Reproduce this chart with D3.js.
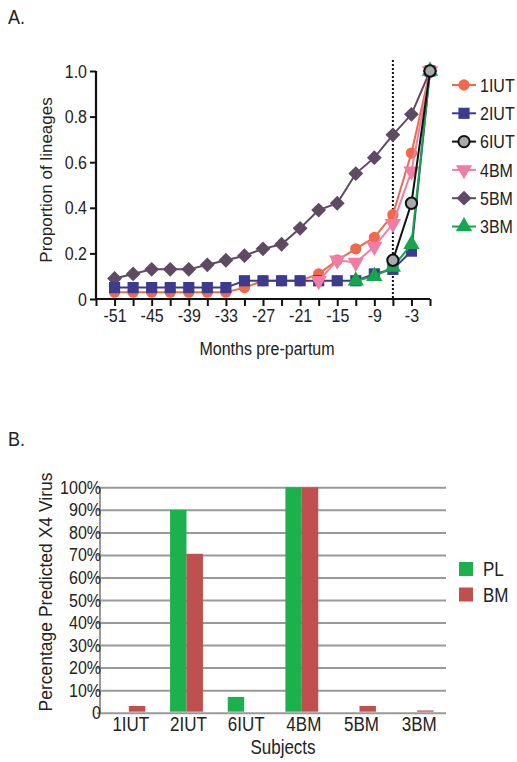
<!DOCTYPE html>
<html>
<head>
<meta charset="utf-8">
<script src="https://cdn.jsdelivr.net/npm/d3@7"></script>
<style>
  body { margin: 0; background: #fff; }
  svg { display: block; font-family: "Liberation Sans", Arial, sans-serif; fill: #222; }
  /* the reference is a little stretched vertically */
  text.st { transform-box: fill-box; transform-origin: center; transform: scaleY(1.17); }
</style>
</head>
<body>
<svg id="chart" width="517" height="762"></svg>
<script>
// panel A data: proportion of lineages by months pre-partum
const months = [-51, -48, -45, -42, -39, -36, -33, -30, -27, -24, -21, -18, -15, -12, -9, -6, -3, 0];
const xTicks = [-54, -51, -48, -45, -42, -39, -36, -33, -30, -27, -24, -21, -18, -15, -12, -9, -6, -3, 0];
const xLabels = [-51, -45, -39, -33, -27, -21, -15, -9, -3];
const yTicks = [0, 0.2, 0.4, 0.6, 0.8, 1.0];
const s1IUT = [0.03, 0.03, 0.03, 0.03, 0.03, 0.03, 0.03, 0.05, 0.08, 0.08, 0.08, 0.11, 0.17, 0.22, 0.27, 0.37, 0.64, 1.0];
const s2IUT = [0.05, 0.05, 0.05, 0.05, 0.05, 0.05, 0.05, 0.08, 0.08, 0.08, 0.08, 0.08, 0.08, 0.08, 0.11, 0.13, 0.21, 1.0];
const s6IUT = [null, null, null, null, null, null, null, null, null, null, null, null, null, null, null, 0.17, 0.42, 1.0];
const s4BM = [null, null, null, null, null, null, null, null, null, null, null, 0.08, 0.17, 0.16, 0.23, 0.33, 0.56, 1.0];
const s5BM = [0.09, 0.11, 0.13, 0.13, 0.13, 0.15, 0.17, 0.19, 0.22, 0.24, 0.31, 0.39, 0.42, 0.55, 0.62, 0.72, 0.81, 1.0];
const s3BM = [null, null, null, null, null, null, null, null, null, null, null, null, null, 0.08, 0.10, 0.14, 0.24, 1.0];
const deliveryMonth = -6;

// panel B data: percentage predicted X4 virus
const subjects = ["1IUT", "2IUT", "6IUT", "4BM", "5BM", "3BM"];
const groups = ["PL", "BM"];
const plValues = [0, 90, 7, 100, 0, 0];
const bmValues = [3, 70.5, 0, 100, 3, 1];
const pctTicks = [0, 10, 20, 30, 40, 50, 60, 70, 80, 90, 100];

const svg = d3.select("svg#chart");

// ---------- panel A ----------
const series = [
  { name: "1IUT", values: s1IUT, color: "#f0694a", shape: "circle", fill: "#f0694a" },
  { name: "2IUT", values: s2IUT, color: "#3c3b8e", shape: "square", fill: "#3c3b8e" },
  { name: "6IUT", values: s6IUT, color: "#111", shape: "circle", fill: "#a7a9ac" },
  { name: "4BM", values: s4BM, color: "#f27ca3", shape: "down", fill: "#f27ca3" },
  { name: "5BM", values: s5BM, color: "#5e4a62", shape: "diamond", fill: "#5e4a62" },
  { name: "3BM", values: s3BM, color: "#14a64a", shape: "up", fill: "#14a64a" },
];
const drawOrder = ["5BM", "1IUT", "2IUT", "4BM", "3BM", "6IUT"];

const x = d3.scaleLinear().domain([-54, 0]).range([96, 430]);
const y = d3.scaleLinear().domain([0, 1]).range([299, 71]);

function symbolPath(shape) {
  if (shape === "circle") return d3.symbol(d3.symbolCircle, 100)();
  if (shape === "square") return d3.symbol(d3.symbolSquare, 125)();
  if (shape === "diamond") return d3.symbol(d3.symbolSquare, 110)();
  return d3.symbol(d3.symbolTriangle, 115)();
}
function symbolRotate(shape) {
  if (shape === "diamond") return 45;
  if (shape === "down") return 180;
  return 0;
}

const panelA = svg.append("g");

// dotted line at delivery
panelA.append("line")
  .attr("x1", x(deliveryMonth)).attr("x2", x(deliveryMonth))
  .attr("y1", 60).attr("y2", y(0))
  .attr("stroke", "#111").attr("stroke-width", 2)
  .attr("stroke-dasharray", "2,2");

// axes
const xAxis = panelA.append("g").attr("transform", `translate(0,${y(0)})`)
  .call(d3.axisBottom(x).tickValues(xTicks).tickSize(7)
    .tickFormat((d) => (xLabels.includes(d) ? d : "")));
xAxis.select(".domain").attr("stroke", "#111").attr("stroke-width", 2.2).attr("d", `M${x(-54)},0H${x(0)}`);
xAxis.selectAll(".tick line").attr("stroke", "#111").attr("stroke-width", 2);
xAxis.selectAll(".tick text").attr("class", "st").attr("font-size", 16).attr("fill", "#222")
  .attr("y", 11).attr("dy", "0.71em");

const yAxis = panelA.append("g").attr("transform", `translate(${x(-54)},0)`)
  .call(d3.axisLeft(y).tickValues(yTicks).tickSize(6)
    .tickFormat((d) => (d === 0 ? "0" : d3.format(".1f")(d))));
yAxis.select(".domain").attr("stroke", "#111").attr("stroke-width", 2.2).attr("d", `M0,${y(0)}V${y(1)}`);
yAxis.selectAll(".tick line").attr("stroke", "#111").attr("stroke-width", 2);
yAxis.selectAll(".tick text").attr("class", "st").attr("font-size", 16).attr("fill", "#222").attr("x", -9);

// lines and markers
const line = d3.line()
  .defined((d) => d.v != null)
  .x((d) => x(d.m))
  .y((d) => y(d.v));

drawOrder.forEach((name) => {
  const s = series.find((d) => d.name === name);
  const pts = months.map((m, i) => ({ m, v: s.values[i] }));
  const g = panelA.append("g");
  g.append("path")
    .attr("d", line(pts))
    .attr("fill", "none")
    .attr("stroke", s.color)
    .attr("stroke-width", 2);
  g.selectAll("path.mark")
    .data(pts.filter((d) => d.v != null))
    .join("path")
    .attr("class", "mark")
    .attr("d", symbolPath(s.shape))
    .attr("transform", (d) => `translate(${x(d.m)},${y(d.v)}) rotate(${symbolRotate(s.shape)})`)
    .attr("fill", s.fill)
    .attr("stroke", s.name === "6IUT" ? "#111" : "none")
    .attr("stroke-width", 2);
});

// legend A
const legA = panelA.selectAll("g.leg")
  .data(series)
  .join("g")
  .attr("class", "leg")
  .attr("transform", (d, i) => `translate(464,${85 + i * 28.3})`);
legA.append("line").attr("x1", -12).attr("x2", 12)
  .attr("stroke", (d) => d.color).attr("stroke-width", 2);
legA.append("path")
  .attr("d", (d) => symbolPath(d.shape))
  .attr("transform", (d) => `rotate(${symbolRotate(d.shape)})`)
  .attr("fill", (d) => d.fill)
  .attr("stroke", (d) => (d.name === "6IUT" ? "#111" : "none"))
  .attr("stroke-width", 2);
legA.append("text").attr("class", "st").attr("x", 16).attr("dy", "0.36em")
  .attr("font-size", 16).attr("fill", "#222").text((d) => d.name);

panelA.append("text").attr("class", "st").attr("x", 8).attr("y", 23).attr("font-size", 18).text("A.");
panelA.append("text").attr("transform", "translate(52,180) rotate(-90)")
  .attr("text-anchor", "middle").attr("font-size", 17).text("Proportion of lineages");
panelA.append("text").attr("class", "st").attr("x", 267).attr("y", 354)
  .attr("text-anchor", "middle").attr("font-size", 16).text("Months pre-partum");

// ---------- panel B ----------
const panelB = svg.append("g");
const xB = d3.scaleBand().domain(subjects).range([100, 446]).paddingInner(0.43).paddingOuter(0.215);
const xSub = d3.scaleBand().domain(groups).range([0, xB.bandwidth()]);
const yB = d3.scaleLinear().domain([0, 100]).range([712.7, 487.3]);
const colorB = d3.scaleOrdinal().domain(groups).range(["#1db14e", "#c0504d"]);

// gridlines
const yAxisB = panelB.append("g").attr("transform", "translate(100,0)")
  .call(d3.axisLeft(yB).tickValues(pctTicks).tickSize(-346)
    .tickFormat((d) => (d === 0 ? "0" : d + "%")));
yAxisB.select(".domain").attr("stroke", "#999").attr("stroke-width", 2).attr("d", `M0,${yB(0)}V${yB(100)}`);
yAxisB.selectAll(".tick line").attr("stroke", "#999").attr("stroke-width", 2).attr("x1", -3);
yAxisB.selectAll(".tick text").attr("class", "st").attr("font-size", 16).attr("fill", "#222").attr("x", 1);

const bars = subjects.map((s, i) => [
  { subject: s, group: "PL", value: plValues[i] },
  { subject: s, group: "BM", value: bmValues[i] },
]).flat();

panelB.append("g").selectAll("rect")
  .data(bars.filter((d) => d.value > 0))
  .join("rect")
  .attr("x", (d) => xB(d.subject) + xSub(d.group))
  .attr("width", xSub.bandwidth())
  .attr("y", (d) => yB(d.value))
  .attr("height", (d) => yB(0) - yB(d.value) - 1)
  .attr("fill", (d) => colorB(d.group));

panelB.append("g").selectAll("text")
  .data(subjects)
  .join("text")
  .attr("class", "st")
  .attr("x", (d) => xB(d) + xB.bandwidth() / 2 + 2)
  .attr("y", 730)
  .attr("text-anchor", "middle")
  .attr("font-size", 17)
  .text((d) => d);

// legend B
const legB = panelB.selectAll("g.legb")
  .data(groups)
  .join("g")
  .attr("class", "legb")
  .attr("transform", (d, i) => `translate(459,${562 + i * 25.5})`);
legB.append("rect").attr("width", 14).attr("height", 14).attr("fill", (d) => colorB(d));
legB.append("text").attr("class", "st").attr("x", 24).attr("y", 7).attr("dy", "0.36em")
  .attr("font-size", 17).text((d) => d);

panelB.append("text").attr("class", "st").attr("x", 8).attr("y", 445).attr("font-size", 18).text("B.");
panelB.append("text").attr("transform", "translate(52,592) rotate(-90)")
  .attr("text-anchor", "middle").attr("font-size", 17.5).text("Percentage Predicted X4 Virus");
panelB.append("text").attr("class", "st").attr("x", 283).attr("y", 753)
  .attr("text-anchor", "middle").attr("font-size", 17).text("Subjects");
</script>
</body>
</html>
